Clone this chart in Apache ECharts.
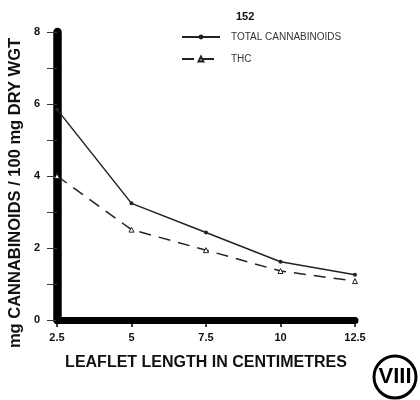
<!DOCTYPE html>
<html>
<head>
<meta charset="utf-8">
<script src="https://cdn.jsdelivr.net/npm/echarts@6/dist/echarts.min.js"></script>
<style>
  html, body { margin: 0; padding: 0; background: #fff; }
  #chart { width: 420px; height: 400px; }
</style>
</head>
<body>
<div id="chart"></div>
<script>
// leaflet length (cm)
const leafletLength = [2.5, 5, 7.5, 10, 12.5]
const totalCannabinoids = [5.85, 3.24, 2.43, 1.62, 1.26]
const thc = [4.0, 2.51, 1.94, 1.36, 1.08]
const yLabels = [0, 2, 4, 6, 8]

const pairs = (xs, ys) => xs.map((x, i) => [x, ys[i]])

const chart = echarts.init(document.getElementById('chart'))
const font = '"Liberation Sans", Arial, sans-serif'

chart.setOption({
  animation: false,
  title: {
    text: '152',
    left: 231, top: 6,
    textStyle: { fontFamily: font, fontSize: 11, fontWeight: 'bold', color: '#111' }
  },
  legend: {
    orient: 'vertical',
    left: 176, top: 27,
    itemWidth: 38, itemHeight: 6, itemGap: 12,
    textStyle: { fontFamily: font, fontSize: 10, color: '#333', padding: [0, 0, 0, 6] },
    data: [
      { name: 'TOTAL CANNABINOIDS' },
      { name: 'THC' }
    ]
  },
  grid: { left: 57, right: 65, top: 32, bottom: 80, containLabel: false },
  xAxis: {
    type: 'value',
    min: 2.5, max: 12.5, interval: 2.5,
    name: 'LEAFLET LENGTH IN CENTIMETRES',
    nameLocation: 'middle', nameGap: 35,
    nameTextStyle: { fontFamily: font, fontSize: 16, color: '#111', fontWeight: 'bold' },
    axisLine: { lineStyle: { color: '#000', width: 7 } },
    axisTick: { show: true, inside: false, length: 7, lineStyle: { color: '#000', width: 1.5 } },
    splitLine: { show: false },
    axisLabel: {
      fontFamily: font, fontSize: 11, fontWeight: 'bold', color: '#111', margin: 12,
      formatter: v => String(v)
    }
  },
  yAxis: {
    type: 'value',
    min: 0, max: 8, interval: 1,
    axisLine: { lineStyle: { color: '#000', width: 8.5 } },
    axisTick: { show: true, length: 10, lineStyle: { color: '#333', width: 1 } },
    splitLine: { show: false },
    axisLabel: {
      fontFamily: font, fontSize: 11, fontWeight: 'bold', color: '#111', margin: 17,
      formatter: v => (yLabels.indexOf(v) >= 0 ? String(v) : '')
    }
  },
  series: [
    {
      name: 'TOTAL CANNABINOIDS',
      type: 'line',
      data: pairs(leafletLength, totalCannabinoids),
      symbol: 'circle', symbolSize: 4,
      itemStyle: { color: '#222' },
      lineStyle: { color: '#222', width: 1.5 }
    },
    {
      name: 'THC',
      type: 'line',
      data: pairs(leafletLength, thc),
      symbol: 'triangle', symbolSize: 5,
      itemStyle: { color: '#fff', borderColor: '#222', borderWidth: 1 },
      lineStyle: { color: '#222', width: 1.5, type: [12, 8] }
    }
  ],
  graphic: [
    {
      // y axis title, placed by hand like the original print
      type: 'text',
      x: 15, y: 193, rotation: Math.PI / 2,
      style: {
        text: 'mg CANNABINOIDS / 100 mg DRY WGT', fontFamily: font, fontSize: 16.5,
        fontWeight: 'bold', fill: '#111', align: 'center', verticalAlign: 'middle'
      }
    },
    {
      type: 'circle',
      shape: { cx: 395, cy: 377, r: 21 },
      style: { fill: '#fff', stroke: '#000', lineWidth: 3 }
    },
    {
      type: 'text',
      x: 395, y: 377,
      style: {
        text: 'VIII', fontFamily: font, fontSize: 22, fontWeight: 'bold',
        fill: '#000', align: 'center', verticalAlign: 'middle'
      }
    }
  ]
})
</script>
</body>
</html>
